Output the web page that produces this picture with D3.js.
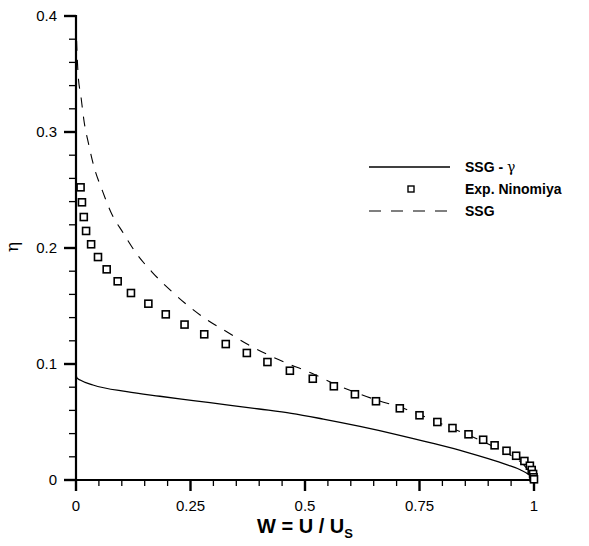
<!DOCTYPE html>
<html><head><meta charset="utf-8">
<script src="https://cdn.jsdelivr.net/npm/d3@7"></script>
<style>body{margin:0;background:#fff}svg{display:block}</style>
</head><body>
<script>
const expW = [0.010,0.013,0.017,0.022,0.033,0.048,0.067,0.091,0.120,0.158,0.196,0.237,0.280,0.327,0.373,0.418,0.467,0.517,0.563,0.609,0.655,0.707,0.750,0.789,0.822,0.857,0.889,0.914,0.940,0.961,0.979,0.991,0.995,0.998,0.999,1.0];
const expEta = [0.2523,0.2394,0.2267,0.2147,0.2032,0.1922,0.1816,0.1713,0.1612,0.1520,0.1428,0.1340,0.1256,0.1172,0.1095,0.1017,0.0942,0.0873,0.0808,0.0739,0.0679,0.0618,0.0558,0.0500,0.0448,0.0394,0.0347,0.0299,0.0252,0.0209,0.0164,0.0123,0.0086,0.0052,0.0023,0.0006];
const ssgW = [0,0.001,0.002,0.0044,0.011,0.0175,0.028,0.040,0.057,0.076,0.103,0.131,0.166,0.203,0.290,0.330,0.3755,0.42,0.465,0.515,0.56,0.61,0.66,0.71,0.80,0.90,0.95,0.98,1.0];
const ssgEta = [0.395,0.382,0.3707,0.3509,0.330,0.3095,0.2888,0.269,0.250,0.231,0.213,0.1957,0.1793,0.1647,0.137,0.1276,0.1168,0.1078,0.100,0.092,0.0836,0.0755,0.0685,0.0625,0.048,0.031,0.021,0.012,0.0];
const gamW = [0,0.002,0.009,0.037,0.111,0.183,0.256,0.329,0.40,0.47,0.54,0.62,0.70,0.78,0.85,0.90,0.94,0.97,0.99,1.0];
const gamEta = [0.0905,0.088,0.0862,0.0819,0.0761,0.0722,0.0685,0.0648,0.0612,0.0575,0.0525,0.0462,0.0392,0.0315,0.0243,0.0184,0.0132,0.0088,0.0042,0.0];
const xTicks = [0,0.25,0.5,0.75,1];
const xTickLabels = ["0","0.25","0.5","0.75","1"];
const yTicks = [0,0.1,0.2,0.3,0.4];
const yTickLabels = ["0","0.1","0.2","0.3","0.4"];
const legendLabels = ["SSG - ","Exp. Ninomiya","SSG"];

const W=589,H=546;
const svg=d3.select("body").append("svg").attr("width",W).attr("height",H);
const x=d3.scaleLinear().domain([0,1]).range([76,534]);
const y=d3.scaleLinear().domain([0,0.4]).range([480,16]);
const font="Arial, 'Liberation Sans', Helvetica, sans-serif";

const xMinor=d3.range(0,1.0001,0.05).filter(v=>!xTicks.some(t=>Math.abs(t-v)<1e-6));
const yMinor=d3.range(0,0.4001,0.02).filter(v=>!yTicks.some(t=>Math.abs(t-v)<1e-6));
const g=svg.append("g");
g.selectAll(".xm").data(xMinor).join("line").attr("x1",d=>x(d)).attr("x2",d=>x(d)).attr("y1",480).attr("y2",486).attr("stroke","#000").attr("stroke-width",1.3);
g.selectAll(".xM").data(xTicks).join("line").attr("x1",d=>x(d)).attr("x2",d=>x(d)).attr("y1",480).attr("y2",491).attr("stroke","#000").attr("stroke-width",2.4);
g.selectAll(".ym").data(yMinor).join("line").attr("y1",d=>y(d)).attr("y2",d=>y(d)).attr("x1",76).attr("x2",69).attr("stroke","#000").attr("stroke-width",1.3);
g.selectAll(".yM").data(yTicks).join("line").attr("y1",d=>y(d)).attr("y2",d=>y(d)).attr("x1",76).attr("x2",64).attr("stroke","#000").attr("stroke-width",2.4);
g.append("line").attr("x1",76).attr("x2",76).attr("y1",15).attr("y2",481).attr("stroke","#000").attr("stroke-width",2.2);
g.append("line").attr("x1",75).attr("x2",535).attr("y1",480).attr("y2",480).attr("stroke","#000").attr("stroke-width",2.2);
g.selectAll(".xl").data(xTicks).join("text").attr("x",d=>x(d)).attr("y",511).attr("text-anchor","middle").attr("font-family",font).attr("font-size",15).text((d,i)=>xTickLabels[i]);
g.selectAll(".yl").data(yTicks).join("text").attr("x",57).attr("y",d=>y(d)+5).attr("text-anchor","end").attr("font-family",font).attr("font-size",15).text((d,i)=>yTickLabels[i]);
const xt=svg.append("text").attr("x",305).attr("y",533).attr("text-anchor","middle").attr("font-family",font).attr("font-size",20).attr("font-weight","bold");
xt.append("tspan").text("W = U / U");
xt.append("tspan").attr("font-size",13).attr("dy",5).text("S");
svg.append("text").attr("transform","translate(18,247) rotate(-90)").attr("text-anchor","middle").attr("font-family","'DejaVu Serif', serif").attr("font-size",17).text("η");

const line=d3.line().x(d=>x(d[0])).y(d=>y(d[1])).curve(d3.curveMonotoneX);
svg.append("path").datum(gamW.map((w,i)=>[w,gamEta[i]])).attr("d",line).attr("fill","none").attr("stroke","#000").attr("stroke-width",1.3);
svg.append("path").datum(ssgW.map((w,i)=>[w,ssgEta[i]])).attr("d",line).attr("fill","none").attr("stroke","#000").attr("stroke-width",1.1).attr("stroke-dasharray","10,9");
svg.selectAll(".pt").data(expW.map((w,i)=>[w,expEta[i]])).join("rect")
  .attr("x",d=>x(d[0])-3.5).attr("y",d=>y(d[1])-3.5).attr("width",7).attr("height",7)
  .attr("fill","#fff").attr("stroke","#000").attr("stroke-width",1.6);

const lg=svg.append("g");
lg.append("line").attr("x1",369).attr("x2",450).attr("y1",167).attr("y2",167).attr("stroke","#000").attr("stroke-width",1.3);
lg.append("rect").attr("x",408).attr("y",186).attr("width",6).attr("height",6).attr("fill","#fff").attr("stroke","#000").attr("stroke-width",1.4);
lg.append("line").attr("x1",369).attr("x2",450).attr("y1",211).attr("y2",211).attr("stroke","#000").attr("stroke-width",1.1).attr("stroke-dasharray","12,10");
const t1=lg.append("text").attr("x",465).attr("y",172).attr("font-family",font).attr("font-size",14).attr("font-weight","bold");
t1.append("tspan").text(legendLabels[0]);
t1.append("tspan").attr("font-weight","normal").attr("font-family","'DejaVu Serif', serif").attr("font-size",14).text("γ");
lg.append("text").attr("x",465).attr("y",194).attr("font-family",font).attr("font-size",14).attr("font-weight","bold").text(legendLabels[1]);
lg.append("text").attr("x",465).attr("y",216).attr("font-family",font).attr("font-size",14).attr("font-weight","bold").text(legendLabels[2]);
</script>
</body></html>
